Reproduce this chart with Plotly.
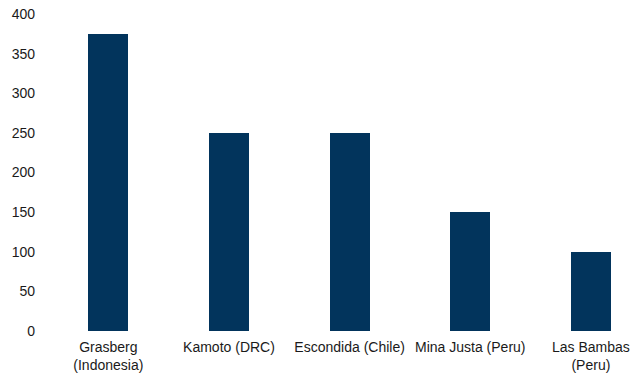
import plotly.graph_objects as go

mines = ["Grasberg<br>(Indonesia)", "Kamoto (DRC)", "Escondida (Chile)", "Mina Justa (Peru)", "Las Bambas<br>(Peru)"]
values = [375, 250, 250, 150, 100]
y_ticks = [0, 50, 100, 150, 200, 250, 300, 350, 400]

fig = go.Figure(go.Bar(
    x=list(range(len(mines))), y=values,
    marker=dict(color="#02345C", line=dict(width=0)),
    width=0.33,
))
fig.update_layout(
    width=644, height=373,
    margin=dict(l=48, r=0, t=14, b=42),
    plot_bgcolor="white", paper_bgcolor="white",
    font=dict(family="Liberation Sans, Arial, sans-serif", size=14, color="#1a1a1a"),
    showlegend=False,
    bargap=0,
)
fig.update_xaxes(
    range=[-0.5, 4.44],
    tickmode="array", tickvals=list(range(len(mines))), ticktext=mines,
    showgrid=False, zeroline=False, showline=False, ticks="",
    ticklabelstandoff=6,
)
fig.update_yaxes(
    range=[0, 400], tickmode="array", tickvals=y_ticks,
    showgrid=False, zeroline=False, showline=False, ticks="",
    ticklabelstandoff=12,
)
fig.write_html("out.html")
